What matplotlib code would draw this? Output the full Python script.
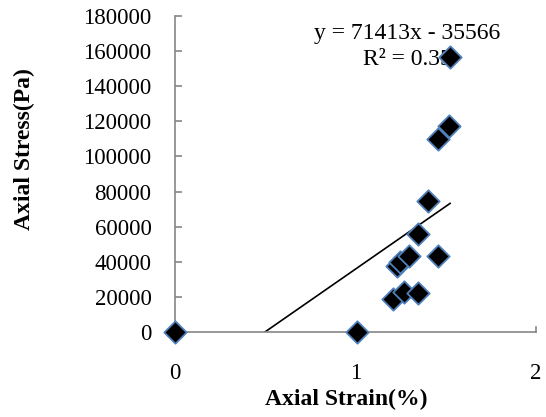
import matplotlib.pyplot as plt
import numpy as np

# datos
strain = [0.0, 1.01, 1.21, 1.228, 1.247, 1.269, 1.296, 1.344, 1.348, 1.403,
          1.459, 1.459, 1.518, 1.524]
stress = [0, 0, 18800, 37600, 40000, 22600, 43300, 55800, 22000, 74800,
          43300, 109800, 117300, 156500]
pendiente = 71413
intercepto = -35566
texto_eq = 'y = 71413x - 35566'
texto_r2 = 'R² = 0.35'

plt.rcParams['font.family'] = ['Liberation Serif', 'DejaVu Serif']

fig = plt.figure(figsize=(5.46, 4.17), dpi=100)
ax = fig.add_axes([0.3205, 0.2038, 0.6612, 0.7578])

# linea de tendencia
x_linea = np.array([0, max(strain)])
ax.plot(x_linea, pendiente * x_linea + intercepto, color='black', lw=1.2, zorder=2)

ax.scatter(strain, stress, marker='D', s=130, facecolor='black',
           edgecolor='#4F81BD', linewidth=1.3, zorder=4, clip_on=False)

ax.text(1.285, 170300, texto_eq, ha='center', va='center', fontsize=17, zorder=1)
ax.text(1.285, 155000, texto_r2, ha='center', va='center', fontsize=17, zorder=1)

ax.set_xlim(0, 2)
ax.set_ylim(0, 180000)
ax.set_xticks([0, 1, 2])
ax.set_yticks(range(0, 180001, 20000))

ax.spines['top'].set_visible(False)
ax.spines['right'].set_bounds(0, 3000)
for lado in ['left', 'bottom', 'right']:
    ax.spines[lado].set_color('#868686')
    ax.spines[lado].set_linewidth(1.2)

ax.tick_params(axis='y', direction='in', length=5, width=1.2, color='#868686',
               labelsize=16.5, pad=17)
ax.tick_params(axis='x', length=0, labelsize=16.5, pad=22)

ax.set_xlabel('Axial Strain(%)', fontsize=17, fontweight='bold')
ax.set_ylabel('Axial Stress(Pa)', fontsize=17, fontweight='bold')
ax.xaxis.set_label_coords(0.474, -0.18)
ax.yaxis.set_label_coords(-0.388, 0.579)

plt.savefig('out.png', dpi=100)
